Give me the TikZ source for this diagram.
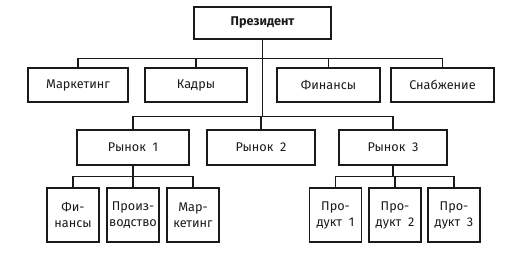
\documentclass[tikz,border=0pt]{standalone}
\usepackage{fontspec}
\setmainfont{Fira Sans}
\usetikzlibrary{positioning}
\definecolor{ink}{HTML}{1A1A1A}
\tikzset{
  unit/.style={draw=ink,line width=0.9pt,text=ink,align=center,inner sep=1pt,
    font=\fontsize{9.5}{12}\selectfont},
  link/.style={draw=ink,line width=0.9pt}
}

\begin{document}
\begin{tikzpicture}[x=0.75pt,y=-0.75pt]
\useasboundingbox (0,0) rectangle (528,254);
% top
\node[unit,minimum width=137*0.75pt,minimum height=32*0.75pt,font=\fontsize{9.5}{12}\selectfont\bfseries] (pres) at (262.5,23) {Президент};
% staff departments
\node[unit,minimum width=100*0.75pt,minimum height=34*0.75pt] (mkt) at (78,85) {Маркетинг};
\node[unit,minimum width=102*0.75pt,minimum height=34*0.75pt] (kadr) at (196,85) {Кадры};
\node[unit,minimum width=103*0.75pt,minimum height=34*0.75pt] (fin) at (328.5,85) {Финансы};
\node[unit,minimum width=103*0.75pt,minimum height=34*0.75pt] (snab) at (442.5,85) {Снабжение};
% markets
\node[unit,minimum width=112*0.75pt,minimum height=35*0.75pt] (r1) at (133,147.5) {Рынок~~1};
\node[unit,minimum width=108*0.75pt,minimum height=35*0.75pt] (r2) at (261,147.5) {Рынок~~2};
\node[unit,minimum width=108*0.75pt,minimum height=35*0.75pt] (r3) at (393,147.5) {Рынок~~3};
% market 1 units
\node[unit,minimum width=52*0.75pt,minimum height=54*0.75pt] (rfin) at (73,215) {Фи-\\нансы};
\node[unit,minimum width=52*0.75pt,minimum height=54*0.75pt] (rpro) at (133,215) {Произ-\\водство};
\node[unit,minimum width=52*0.75pt,minimum height=54*0.75pt] (rmkt) at (193,215) {Мар-\\кетинг};
% market 3 products
\node[unit,minimum width=52*0.75pt,minimum height=54*0.75pt] (p1) at (335.5,215) {Про-\\дукт~~1};
\node[unit,minimum width=52*0.75pt,minimum height=54*0.75pt] (p2) at (395,215) {Про-\\дукт~~2};
\node[unit,minimum width=52*0.75pt,minimum height=54*0.75pt] (p3) at (454,215) {Про-\\дукт~~3};

\foreach \n in {mkt,kadr,fin,snab}
  \draw[link] (\n.north) -- ++(0,-9) -| (pres.south);
\foreach \n in {r1,r2,r3}
  \draw[link] (\n.north) -- ++(0,-13) -| (pres.south);
\foreach \n in {rfin,rpro,rmkt}
  \draw[link] (\n.north) -- ++(0,-11) -| (r1.south);
\foreach \n in {p1,p2,p3}
  \draw[link] (\n.north) -- ++(0,-11) -| (r3.south);
\end{tikzpicture}
\end{document}
